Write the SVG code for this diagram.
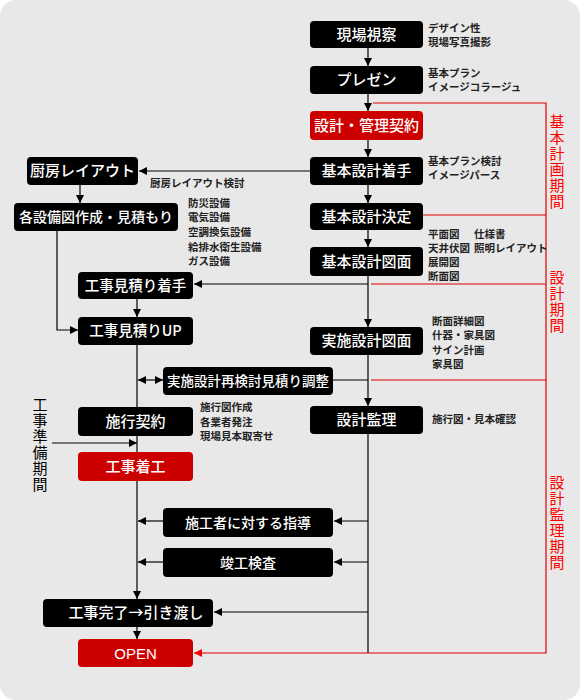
<svg xmlns="http://www.w3.org/2000/svg" width="580" height="700" viewBox="0 0 580 700">
<style>
.nb{fill:#000;}
.nr{fill:#cc0000;}
.nt{fill:#fff;font-family:"Noto Sans CJK JP","Noto Sans",sans-serif;font-size:15px;font-weight:500;text-anchor:middle;}
.nl{font-family:"Liberation Sans",Arial,sans-serif;}
.an{fill:#222;font-family:"Noto Sans CJK JP",sans-serif;font-size:10.5px;font-weight:bold;}
.vr{fill:#f00;font-family:"Noto Sans CJK JP",sans-serif;font-size:15px;writing-mode:vertical-rl;letter-spacing:1px;}
.vb{fill:#000;font-family:"Noto Sans CJK JP",sans-serif;font-size:15px;writing-mode:vertical-rl;letter-spacing:1px;}
.c{stroke:#000;stroke-width:1.2;fill:none;}
.r{stroke:#e00000;stroke-width:1.2;fill:none;}
</style>
<defs>
<marker id="ab" markerUnits="userSpaceOnUse" markerWidth="8" markerHeight="8" refX="8" refY="4" orient="auto-start-reverse"><path d="M0,0 L8,4 L0,8 z" fill="#000"/></marker>
<marker id="ar" markerUnits="userSpaceOnUse" markerWidth="8" markerHeight="8" refX="8" refY="4" orient="auto"><path d="M0,0 L8,4 L0,8 z" fill="#f00"/></marker>
</defs>
<rect x="0" y="0" width="580" height="700" fill="#fff"/>
<rect x="0" y="0" width="580" height="700" rx="16" fill="#e8e8e8"/>

<g id="connectors">
<line class="c" x1="368" y1="48" x2="368" y2="66" marker-end="url(#ab)"/>
<line class="c" x1="368" y1="94" x2="368" y2="111" marker-end="url(#ab)"/>
<line class="c" x1="368" y1="140" x2="368" y2="157" marker-end="url(#ab)"/>
<line class="c" x1="368" y1="185" x2="368" y2="203" marker-end="url(#ab)"/>
<line class="c" x1="368" y1="230" x2="368" y2="247" marker-end="url(#ab)"/>
<line class="c" x1="368" y1="276" x2="368" y2="327" marker-end="url(#ab)"/>
<line class="c" x1="368" y1="355" x2="368" y2="406" marker-end="url(#ab)"/>
<line class="c" x1="368" y1="434" x2="368" y2="653"/>
<line class="c" x1="310" y1="171" x2="139" y2="171" marker-end="url(#ab)"/>
<line class="c" x1="368" y1="284" x2="194" y2="284" marker-end="url(#ab)"/>
<line class="c" x1="333" y1="380" x2="368" y2="380"/>
<line class="c" x1="368" y1="521" x2="334" y2="521" marker-end="url(#ab)"/>
<line class="c" x1="368" y1="562" x2="334" y2="562" marker-end="url(#ab)"/>
<line class="c" x1="368" y1="612" x2="214" y2="612" marker-end="url(#ab)"/>
<line class="c" x1="80" y1="185" x2="80" y2="203" marker-end="url(#ab)"/>
<polyline class="c" points="57,231 57,330 78,330" marker-end="url(#ab)"/>
<line class="c" x1="137" y1="299" x2="137" y2="317" marker-end="url(#ab)"/>
<line class="c" x1="137" y1="345" x2="137" y2="407"/>
<line class="c" x1="138" y1="380" x2="163" y2="380" marker-start="url(#ab)" marker-end="url(#ab)"/>
<line class="c" x1="137" y1="436" x2="137" y2="452"/>
<line class="c" x1="52" y1="443" x2="137" y2="443" marker-end="url(#ab)"/>
<line class="c" x1="137" y1="481" x2="137" y2="599" marker-end="url(#ab)"/>
<line class="c" x1="163" y1="521" x2="138" y2="521" marker-end="url(#ab)"/>
<line class="c" x1="163" y1="562" x2="138" y2="562" marker-end="url(#ab)"/>
<line class="c" x1="137" y1="627" x2="137" y2="639" marker-end="url(#ab)"/>
<polyline class="r" points="373,103 546,103 546,653 194,653" marker-end="url(#ar)"/>
<line class="r" x1="423" y1="215" x2="546" y2="215"/>
<line class="r" x1="371" y1="284" x2="546" y2="284"/>
<line class="r" x1="371" y1="380" x2="546" y2="380"/>
</g>

<g id="n-genba"><rect class="nb" x="310" y="21" width="113" height="27" rx="4"/><text class="nt" x="366.5" y="40">現場視察</text></g>
<g id="n-presen"><rect class="nb" x="310" y="66" width="113" height="28" rx="4"/><text class="nt" x="366.5" y="85">プレゼン</text></g>
<g id="n-keiyaku"><rect class="nr" x="310" y="111" width="113" height="29" rx="4"/><text class="nt" x="366.5" y="131">設計・管理契約</text></g>
<g id="n-kihon-chakushu"><rect class="nb" x="310" y="157" width="113" height="28" rx="4"/><text class="nt" x="366.5" y="176">基本設計着手</text></g>
<g id="n-kihon-kettei"><rect class="nb" x="310" y="203" width="113" height="27" rx="4"/><text class="nt" x="366.5" y="222">基本設計決定</text></g>
<g id="n-kihon-zumen"><rect class="nb" x="310" y="247" width="113" height="29" rx="4"/><text class="nt" x="366.5" y="267">基本設計図面</text></g>
<g id="n-jisshi-zumen"><rect class="nb" x="310" y="327" width="113" height="28" rx="4"/><text class="nt" x="366.5" y="346">実施設計図面</text></g>
<g id="n-kanri"><rect class="nb" x="310" y="406" width="113" height="28" rx="4"/><text class="nt" x="366.5" y="425">設計監理</text></g>

<g id="n-chubo"><rect class="nb" x="27" y="157" width="111" height="28" rx="4"/><text class="nt" x="82.5" y="176">厨房レイアウト</text></g>
<g id="n-setsubi"><rect class="nb" x="14" y="203" width="164" height="28" rx="4"/><text class="nt" x="96" y="222" style="font-size:14px">各設備図作成・見積もり</text></g>
<g id="n-mitsumori-chakushu"><rect class="nb" x="78" y="272" width="115" height="27" rx="4"/><text class="nt" x="135.5" y="291" style="font-size:14.5px">工事見積り着手</text></g>
<g id="n-mitsumori-up"><rect class="nb" x="78" y="317" width="115" height="28" rx="4"/><text class="nt" x="135.5" y="336" style="font-size:14.5px">工事見積りUP</text></g>
<g id="n-saikento"><rect class="nb" x="163" y="367" width="170" height="28" rx="4"/><text class="nt" x="248" y="386" style="font-size:13.5px">実施設計再検討見積り調整</text></g>
<g id="n-seko-keiyaku"><rect class="nb" x="78" y="407" width="115" height="29" rx="4"/><text class="nt" x="135.5" y="427">施行契約</text></g>
<g id="n-chakko"><rect class="nr" x="78" y="452" width="115" height="29" rx="4"/><text class="nt" x="135.5" y="472">工事着工</text></g>
<g id="n-shido"><rect class="nb" x="163" y="508" width="170" height="29" rx="4"/><text class="nt" x="248" y="528" style="font-size:14px">施工者に対する指導</text></g>
<g id="n-kensa"><rect class="nb" x="163" y="548" width="170" height="29" rx="4"/><text class="nt" x="248" y="568" style="font-size:14px">竣工検査</text></g>
<g id="n-kanryo"><rect class="nb" x="43" y="599" width="170" height="28" rx="4"/><text class="nt" x="136" y="618">工事完了→引き渡し</text></g>
<g id="n-open"><rect class="nr" x="78" y="639" width="115" height="28" rx="4"/><text class="nt nl" x="135.5" y="658.5">OPEN</text></g>

<g id="annotations">
<text class="an" x="428" y="32">デザイン性</text>
<text class="an" x="428" y="46">現場写真撮影</text>
<text class="an" x="428" y="77">基本プラン</text>
<text class="an" x="428" y="91">イメージコラージュ</text>
<text class="an" x="428" y="165">基本プラン検討</text>
<text class="an" x="428" y="179">イメージパース</text>
<text class="an" x="150" y="187">厨房レイアウト検討</text>
<text class="an" x="188" y="207">防災設備</text>
<text class="an" x="188" y="221">電気設備</text>
<text class="an" x="188" y="236">空調換気設備</text>
<text class="an" x="188" y="251">給排水衛生設備</text>
<text class="an" x="188" y="265">ガス設備</text>
<text class="an" x="428" y="238">平面図</text>
<text class="an" x="474" y="238">仕様書</text>
<text class="an" x="428" y="252">天井伏図</text>
<text class="an" x="474" y="252">照明レイアウト</text>
<text class="an" x="428" y="266">展開図</text>
<text class="an" x="428" y="280">断面図</text>
<text class="an" x="432" y="325">断面詳細図</text>
<text class="an" x="432" y="339">什器・家具図</text>
<text class="an" x="432" y="354">サイン計画</text>
<text class="an" x="432" y="368">家具図</text>
<text class="an" x="432" y="423">施行図・見本確認</text>
<text class="an" x="200" y="411">施行図作成</text>
<text class="an" x="200" y="426">各業者発注</text>
<text class="an" x="200" y="440">現場見本取寄せ</text>
</g>

<g id="periods">
<text class="vr" x="557" y="114">基本計画期間</text>
<text class="vr" x="557" y="270">設計期間</text>
<text class="vr" x="557" y="475">設計監理期間</text>
<text class="vb" x="40" y="397">工事準備期間</text>
</g>
</svg>
